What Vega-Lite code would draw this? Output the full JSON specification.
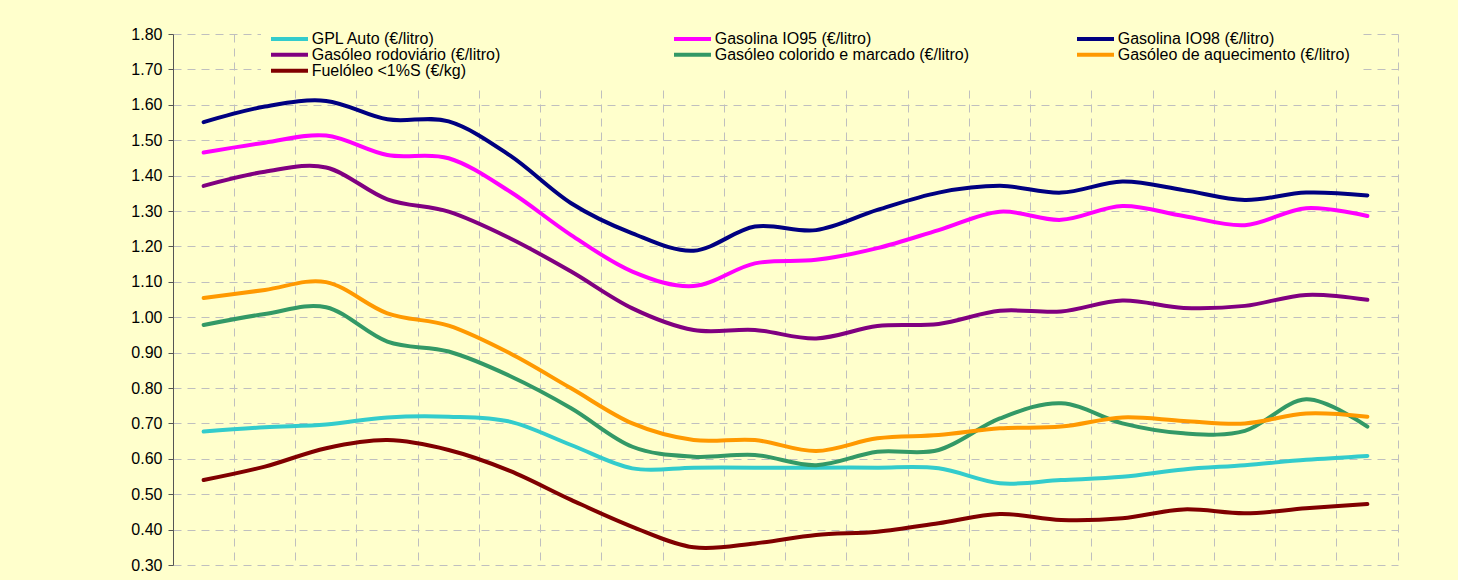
{
  "$schema": "https://vega.github.io/schema/vega-lite/v6.json",
  "width": 1225,
  "height": 531,
  "autosize": {"type": "none"},
  "padding": {"left": 173, "top": 34, "right": 60, "bottom": 15},
  "background": "#FFFFCC",
  "config": {"view": {"stroke": null}, "font": "Liberation Sans"},
  "data": {"values": [
    {"t":1,"s":"GPL Auto (€/litro)","v":0.677},{"t":2,"s":"GPL Auto (€/litro)","v":0.689},{"t":3,"s":"GPL Auto (€/litro)","v":0.697},{"t":4,"s":"GPL Auto (€/litro)","v":0.717},{"t":5,"s":"GPL Auto (€/litro)","v":0.719},{"t":6,"s":"GPL Auto (€/litro)","v":0.705},{"t":7,"s":"GPL Auto (€/litro)","v":0.639},{"t":8,"s":"GPL Auto (€/litro)","v":0.573},{"t":9,"s":"GPL Auto (€/litro)","v":0.575},{"t":10,"s":"GPL Auto (€/litro)","v":0.575},{"t":11,"s":"GPL Auto (€/litro)","v":0.575},{"t":12,"s":"GPL Auto (€/litro)","v":0.575},{"t":13,"s":"GPL Auto (€/litro)","v":0.573},{"t":14,"s":"GPL Auto (€/litro)","v":0.531},{"t":15,"s":"GPL Auto (€/litro)","v":0.540},{"t":16,"s":"GPL Auto (€/litro)","v":0.549},{"t":17,"s":"GPL Auto (€/litro)","v":0.570},{"t":18,"s":"GPL Auto (€/litro)","v":0.582},{"t":19,"s":"GPL Auto (€/litro)","v":0.597},{"t":20,"s":"GPL Auto (€/litro)","v":0.608},
    {"t":1,"s":"Gasolina IO95 (€/litro)","v":1.465},{"t":2,"s":"Gasolina IO95 (€/litro)","v":1.493},{"t":3,"s":"Gasolina IO95 (€/litro)","v":1.513},{"t":4,"s":"Gasolina IO95 (€/litro)","v":1.458},{"t":5,"s":"Gasolina IO95 (€/litro)","v":1.449},{"t":6,"s":"Gasolina IO95 (€/litro)","v":1.355},{"t":7,"s":"Gasolina IO95 (€/litro)","v":1.232},{"t":8,"s":"Gasolina IO95 (€/litro)","v":1.129},{"t":9,"s":"Gasolina IO95 (€/litro)","v":1.088},{"t":10,"s":"Gasolina IO95 (€/litro)","v":1.152},{"t":11,"s":"Gasolina IO95 (€/litro)","v":1.162},{"t":12,"s":"Gasolina IO95 (€/litro)","v":1.195},{"t":13,"s":"Gasolina IO95 (€/litro)","v":1.246},{"t":14,"s":"Gasolina IO95 (€/litro)","v":1.298},{"t":15,"s":"Gasolina IO95 (€/litro)","v":1.275},{"t":16,"s":"Gasolina IO95 (€/litro)","v":1.314},{"t":17,"s":"Gasolina IO95 (€/litro)","v":1.286},{"t":18,"s":"Gasolina IO95 (€/litro)","v":1.260},{"t":19,"s":"Gasolina IO95 (€/litro)","v":1.308},{"t":20,"s":"Gasolina IO95 (€/litro)","v":1.286},
    {"t":1,"s":"Gasolina IO98 (€/litro)","v":1.551},{"t":2,"s":"Gasolina IO98 (€/litro)","v":1.595},{"t":3,"s":"Gasolina IO98 (€/litro)","v":1.611},{"t":4,"s":"Gasolina IO98 (€/litro)","v":1.559},{"t":5,"s":"Gasolina IO98 (€/litro)","v":1.553},{"t":6,"s":"Gasolina IO98 (€/litro)","v":1.457},{"t":7,"s":"Gasolina IO98 (€/litro)","v":1.322},{"t":8,"s":"Gasolina IO98 (€/litro)","v":1.237},{"t":9,"s":"Gasolina IO98 (€/litro)","v":1.188},{"t":10,"s":"Gasolina IO98 (€/litro)","v":1.256},{"t":11,"s":"Gasolina IO98 (€/litro)","v":1.246},{"t":12,"s":"Gasolina IO98 (€/litro)","v":1.303},{"t":13,"s":"Gasolina IO98 (€/litro)","v":1.352},{"t":14,"s":"Gasolina IO98 (€/litro)","v":1.371},{"t":15,"s":"Gasolina IO98 (€/litro)","v":1.352},{"t":16,"s":"Gasolina IO98 (€/litro)","v":1.383},{"t":17,"s":"Gasolina IO98 (€/litro)","v":1.359},{"t":18,"s":"Gasolina IO98 (€/litro)","v":1.331},{"t":19,"s":"Gasolina IO98 (€/litro)","v":1.352},{"t":20,"s":"Gasolina IO98 (€/litro)","v":1.344},
    {"t":1,"s":"Gasóleo rodoviário (€/litro)","v":1.371},{"t":2,"s":"Gasóleo rodoviário (€/litro)","v":1.411},{"t":3,"s":"Gasóleo rodoviário (€/litro)","v":1.423},{"t":4,"s":"Gasóleo rodoviário (€/litro)","v":1.333},{"t":5,"s":"Gasóleo rodoviário (€/litro)","v":1.298},{"t":6,"s":"Gasóleo rodoviário (€/litro)","v":1.223},{"t":7,"s":"Gasóleo rodoviário (€/litro)","v":1.129},{"t":8,"s":"Gasóleo rodoviário (€/litro)","v":1.025},{"t":9,"s":"Gasóleo rodoviário (€/litro)","v":0.964},{"t":10,"s":"Gasóleo rodoviário (€/litro)","v":0.964},{"t":11,"s":"Gasóleo rodoviário (€/litro)","v":0.940},{"t":12,"s":"Gasóleo rodoviário (€/litro)","v":0.975},{"t":13,"s":"Gasóleo rodoviário (€/litro)","v":0.981},{"t":14,"s":"Gasóleo rodoviário (€/litro)","v":1.018},{"t":15,"s":"Gasóleo rodoviário (€/litro)","v":1.016},{"t":16,"s":"Gasóleo rodoviário (€/litro)","v":1.047},{"t":17,"s":"Gasóleo rodoviário (€/litro)","v":1.026},{"t":18,"s":"Gasóleo rodoviário (€/litro)","v":1.032},{"t":19,"s":"Gasóleo rodoviário (€/litro)","v":1.063},{"t":20,"s":"Gasóleo rodoviário (€/litro)","v":1.049},
    {"t":1,"s":"Gasóleo colorido e marcado (€/litro)","v":0.978},{"t":2,"s":"Gasóleo colorido e marcado (€/litro)","v":1.009},{"t":3,"s":"Gasóleo colorido e marcado (€/litro)","v":1.028},{"t":4,"s":"Gasóleo colorido e marcado (€/litro)","v":0.931},{"t":5,"s":"Gasóleo colorido e marcado (€/litro)","v":0.903},{"t":6,"s":"Gasóleo colorido e marcado (€/litro)","v":0.834},{"t":7,"s":"Gasóleo colorido e marcado (€/litro)","v":0.743},{"t":8,"s":"Gasóleo colorido e marcado (€/litro)","v":0.634},{"t":9,"s":"Gasóleo colorido e marcado (€/litro)","v":0.606},{"t":10,"s":"Gasóleo colorido e marcado (€/litro)","v":0.611},{"t":11,"s":"Gasóleo colorido e marcado (€/litro)","v":0.582},{"t":12,"s":"Gasóleo colorido e marcado (€/litro)","v":0.620},{"t":13,"s":"Gasóleo colorido e marcado (€/litro)","v":0.625},{"t":14,"s":"Gasóleo colorido e marcado (€/litro)","v":0.714},{"t":15,"s":"Gasóleo colorido e marcado (€/litro)","v":0.757},{"t":16,"s":"Gasóleo colorido e marcado (€/litro)","v":0.700},{"t":17,"s":"Gasóleo colorido e marcado (€/litro)","v":0.672},{"t":18,"s":"Gasóleo colorido e marcado (€/litro)","v":0.679},{"t":19,"s":"Gasóleo colorido e marcado (€/litro)","v":0.768},{"t":20,"s":"Gasóleo colorido e marcado (€/litro)","v":0.691},
    {"t":1,"s":"Gasóleo de aquecimento (€/litro)","v":1.054},{"t":2,"s":"Gasóleo de aquecimento (€/litro)","v":1.077},{"t":3,"s":"Gasóleo de aquecimento (€/litro)","v":1.099},{"t":4,"s":"Gasóleo de aquecimento (€/litro)","v":1.011},{"t":5,"s":"Gasóleo de aquecimento (€/litro)","v":0.976},{"t":6,"s":"Gasóleo de aquecimento (€/litro)","v":0.898},{"t":7,"s":"Gasóleo de aquecimento (€/litro)","v":0.799},{"t":8,"s":"Gasóleo de aquecimento (€/litro)","v":0.700},{"t":9,"s":"Gasóleo de aquecimento (€/litro)","v":0.653},{"t":10,"s":"Gasóleo de aquecimento (€/litro)","v":0.653},{"t":11,"s":"Gasóleo de aquecimento (€/litro)","v":0.622},{"t":12,"s":"Gasóleo de aquecimento (€/litro)","v":0.658},{"t":13,"s":"Gasóleo de aquecimento (€/litro)","v":0.667},{"t":14,"s":"Gasóleo de aquecimento (€/litro)","v":0.686},{"t":15,"s":"Gasóleo de aquecimento (€/litro)","v":0.691},{"t":16,"s":"Gasóleo de aquecimento (€/litro)","v":0.717},{"t":17,"s":"Gasóleo de aquecimento (€/litro)","v":0.707},{"t":18,"s":"Gasóleo de aquecimento (€/litro)","v":0.700},{"t":19,"s":"Gasóleo de aquecimento (€/litro)","v":0.728},{"t":20,"s":"Gasóleo de aquecimento (€/litro)","v":0.719},
    {"t":1,"s":"Fuelóleo <1%S (€/kg)","v":0.540},{"t":2,"s":"Fuelóleo <1%S (€/kg)","v":0.578},{"t":3,"s":"Fuelóleo <1%S (€/kg)","v":0.630},{"t":4,"s":"Fuelóleo <1%S (€/kg)","v":0.653},{"t":5,"s":"Fuelóleo <1%S (€/kg)","v":0.625},{"t":6,"s":"Fuelóleo <1%S (€/kg)","v":0.566},{"t":7,"s":"Fuelóleo <1%S (€/kg)","v":0.484},{"t":8,"s":"Fuelóleo <1%S (€/kg)","v":0.408},{"t":9,"s":"Fuelóleo <1%S (€/kg)","v":0.350},{"t":10,"s":"Fuelóleo <1%S (€/kg)","v":0.361},{"t":11,"s":"Fuelóleo <1%S (€/kg)","v":0.385},{"t":12,"s":"Fuelóleo <1%S (€/kg)","v":0.394},{"t":13,"s":"Fuelóleo <1%S (€/kg)","v":0.418},{"t":14,"s":"Fuelóleo <1%S (€/kg)","v":0.444},{"t":15,"s":"Fuelóleo <1%S (€/kg)","v":0.427},{"t":16,"s":"Fuelóleo <1%S (€/kg)","v":0.432},{"t":17,"s":"Fuelóleo <1%S (€/kg)","v":0.457},{"t":18,"s":"Fuelóleo <1%S (€/kg)","v":0.446},{"t":19,"s":"Fuelóleo <1%S (€/kg)","v":0.460},{"t":20,"s":"Fuelóleo <1%S (€/kg)","v":0.472}
  ]},
  "mark": {"type": "line", "interpolate": "cardinal", "strokeWidth": 4, "strokeCap": "round"},
  "encoding": {
    "x": {
      "field": "t", "type": "ordinal",
      "scale": {"type": "band", "paddingInner": 0, "paddingOuter": 0},
      "axis": {"labels": false, "ticks": false, "domain": false, "title": null, "grid": true, "bandPosition": 1, "gridColor": "#BFBFBF", "gridDash": [8, 6], "gridWidth": 1}
    },
    "y": {
      "field": "v", "type": "quantitative",
      "scale": {"domain": [0.3, 1.8], "nice": false, "zero": false},
      "axis": {
        "title": null, "format": ".2f",
        "values": [0.3, 0.4, 0.5, 0.6, 0.7, 0.8, 0.9, 1.0, 1.1, 1.2, 1.3, 1.4, 1.5, 1.6, 1.7, 1.8],
        "labelFontSize": 16, "labelColor": "#000000", "labelPadding": 6,
        "tickSize": 5, "tickColor": "#555555", "domainColor": "#555555", "domainWidth": 1,
        "grid": true, "gridColor": "#BFBFBF", "gridDash": [8, 6], "gridWidth": 1
      }
    },
    "color": {
      "field": "s", "type": "nominal",
      "scale": {
        "domain": ["GPL Auto (€/litro)", "Gasolina IO95 (€/litro)", "Gasolina IO98 (€/litro)", "Gasóleo rodoviário (€/litro)", "Gasóleo colorido e marcado (€/litro)", "Gasóleo de aquecimento (€/litro)", "Fuelóleo <1%S (€/kg)"],
        "range": ["#33CCCC", "#FF00FF", "#000080", "#800080", "#339966", "#FF9900", "#800000"]
      },
      "legend": {
        "orient": "none", "direction": "horizontal", "legendX": 88, "legendY": -11, "columns": 3, "title": null,
        "symbolType": "stroke", "symbolSize": 1369, "symbolStrokeWidth": 4,
        "labelFontSize": 16, "labelColor": "#000000", "labelOffset": 1.7, "labelLimit": 400,
        "columnPadding": 105, "rowPadding": -1.7, "clipHeight": 15.5, "gridAlign": "all",
        "fillColor": "#FFFFCC", "padding": 8
      }
    }
  }
}
